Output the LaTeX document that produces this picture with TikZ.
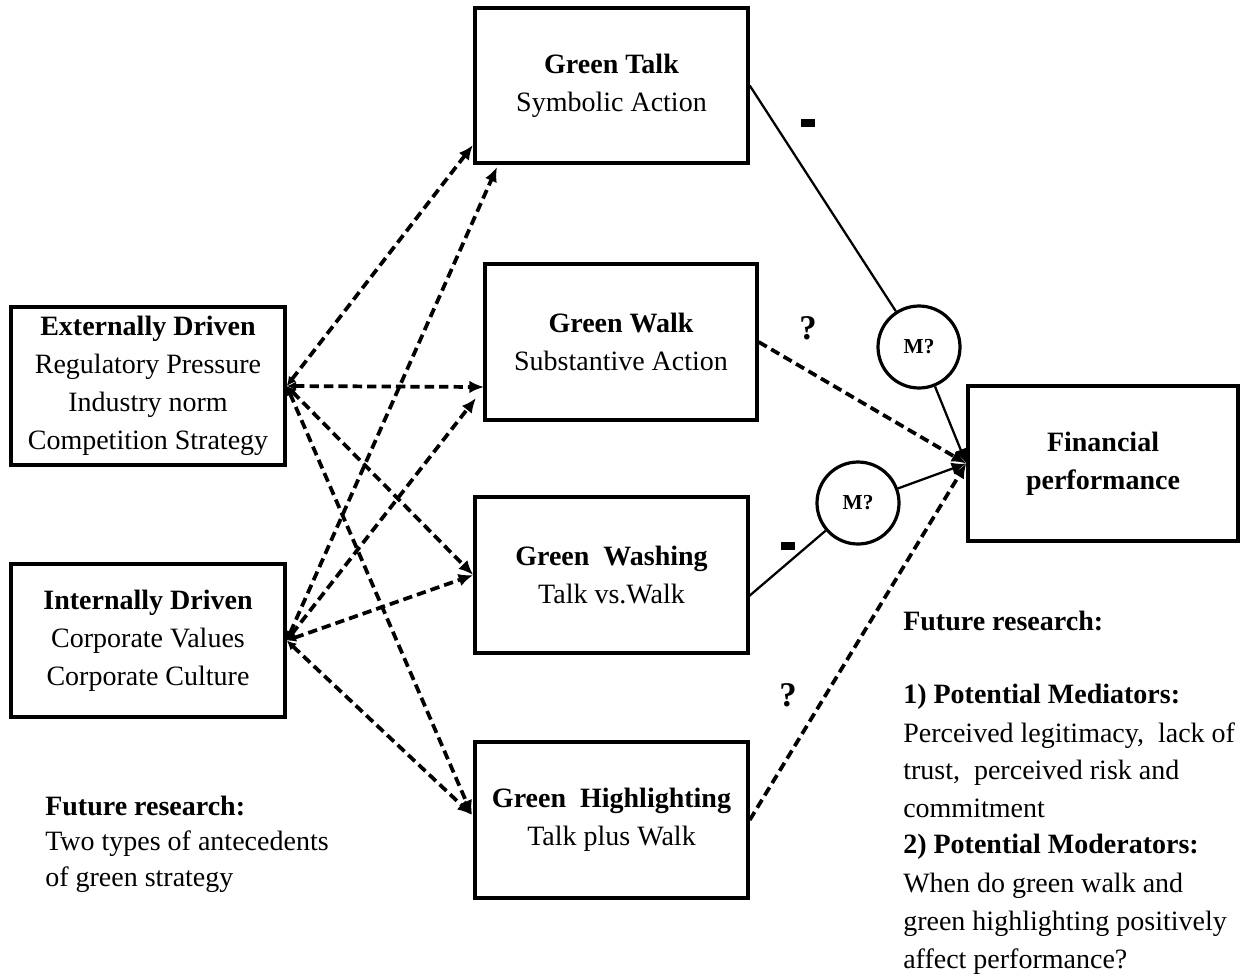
\documentclass[tikz,border=0pt]{standalone}
\usepackage{fontspec}
\setmainfont{Liberation Serif}
\usetikzlibrary{arrows.meta}
\begin{document}
\begin{tikzpicture}[x=0.75pt,y=-0.75pt,
  box/.style={draw, line width=2.6pt, align=center, inner sep=0pt,
    font=\fontsize{21}{28.4}\selectfont},
  circ/.style={draw, circle, line width=2.4pt, minimum size=61.5pt, inner sep=0pt,
    font=\fontsize{16}{18}\selectfont\bfseries},
  txt/.style={anchor=base west, inner sep=0pt, font=\fontsize{21}{28}\selectfont},
  dashconn/.style={line width=2.8pt, dash pattern=on 7pt off 3.8pt,
    {Latex[length=7pt,width=7pt]}-{Latex[length=11pt,width=9.5pt]}},
  dashfin/.style={line width=2.8pt, dash pattern=on 7pt off 3.8pt,
    -{Latex[length=11pt,width=9.5pt]}},
  solidfin/.style={line width=1.7pt, -{Latex[length=11pt,width=9.5pt]}},
  solidline/.style={line width=1.7pt},
  qmark/.style={inner sep=0pt, font=\fontsize{26}{30}\selectfont\bfseries},
  minusbar/.style={fill=black, inner sep=0pt, minimum width=10.5pt, minimum height=6pt},
]
\useasboundingbox (0,0) rectangle (1248,979);

% boxes
\node[box, minimum width=205.5pt, minimum height=118.5pt] (ext) at (148,386)
  {\textbf{Externally Driven}\\Regulatory Pressure\\Industry norm\\Competition Strategy};
\node[box, minimum width=205.5pt, minimum height=114.75pt] (int) at (148,640.5)
  {\textbf{Internally Driven}\\Corporate Values\\Corporate Culture};
\node[box, minimum width=204.75pt, minimum height=116.25pt] (talk) at (611.5,85.5)
  {\textbf{Green Talk}\\Symbolic Action};
\node[box, minimum width=204pt, minimum height=117pt] (walk) at (621,342)
  {\textbf{Green Walk}\\Substantive Action};
\node[box, minimum width=204.75pt, minimum height=117pt] (wash) at (611.5,575)
  {\textbf{Green\ \ Washing}\\Talk vs.Walk};
\node[box, minimum width=204.75pt, minimum height=117pt] (high) at (611.5,820)
  {\textbf{Green\ \ Highlighting}\\Talk plus Walk};
\node[box, minimum width=202.5pt, minimum height=116.25pt] (fin) at (1103,463.5)
  {\textbf{Financial}\\\textbf{performance}};

% moderators
\node[circ] (m1) at (919,347) {M?};
\node[circ] (m2) at (858,503) {M?};

% arrow end points
\coordinate (t1) at (473,145);
\coordinate (t2) at (497,167);
\coordinate (w1) at (484,387);
\coordinate (w2) at (476,398);
\coordinate (h1) at (472,815);
\coordinate (ws) at (748,597);

% antecedent arrows
\draw[dashconn] (ext.east) -- (t1);
\draw[dashconn] (ext.east) -- (w1);
\draw[dashconn] (ext.east) -- (wash.west);
\draw[dashconn] (ext.east) -- (h1);
\draw[dashconn] (int.east) -- (t2);
\draw[dashconn] (int.east) -- (w2);
\draw[dashconn] (int.east) -- (wash.west);
\draw[dashconn] (int.east) -- (h1);

% outcome connectors
\draw[solidline] (talk.east) -- (m1);
\draw[solidfin] (m1) -- (fin.west);
\draw[dashfin] (walk.east) -- (fin.west);
\draw[solidline] (ws) -- (m2);
\draw[solidfin] (m2) -- (fin.west);
\draw[dashfin] (high.east) -- (fin.west);

% signs
\node[minusbar] (minus1) at (808,123) {};
\node[minusbar] (minus2) at (788,546) {};
\node[qmark] (q1) at (808,328) {?};
\node[qmark] (q2) at (788,695) {?};

% left future research
\node[txt] (lf1) at (45,815) {\textbf{Future research:}};
\node[txt] (lf2) at (45,850) {Two types of antecedents};
\node[txt] (lf3) at (45,886) {of green strategy};

% right future research
\node[txt] (rf1) at (903,630) {\textbf{Future research:}};
\node[txt] (rf2) at (903,703) {\textbf{1) Potential Mediators:}};
\node[txt] (rf3) at (903,742) {Perceived legitimacy,\ \ lack of};
\node[txt] (rf4) at (903,779) {trust,\ \ perceived risk and};
\node[txt] (rf5) at (903,817) {commitment};
\node[txt] (rf6) at (903,853) {\textbf{2) Potential Moderators:}};
\node[txt] (rf7) at (903,892) {When do green walk and};
\node[txt] (rf8) at (903,930) {green highlighting positively};
\node[txt] (rf9) at (903,968) {affect performance?};
\end{tikzpicture}
\end{document}
